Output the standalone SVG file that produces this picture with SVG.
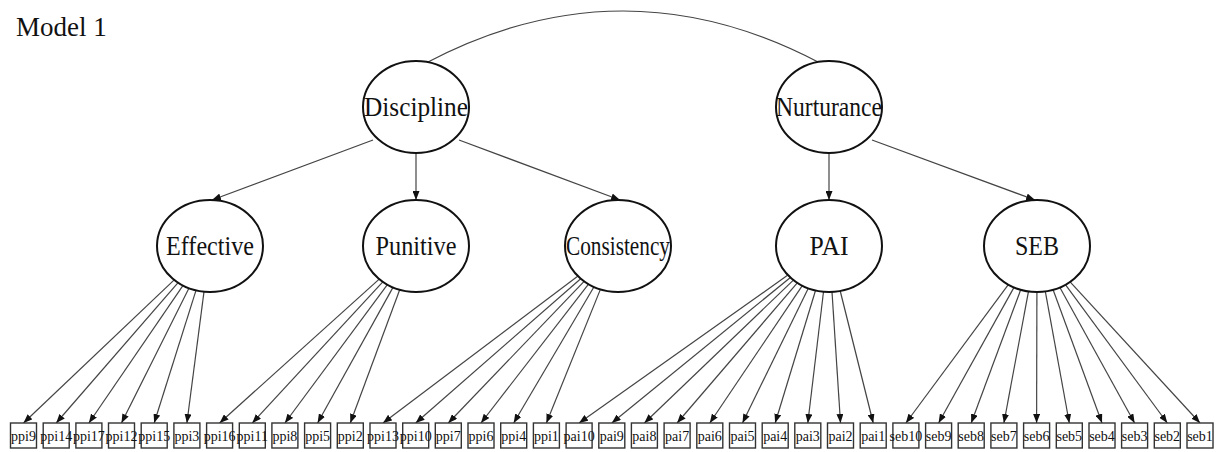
<svg xmlns="http://www.w3.org/2000/svg" width="1219" height="452" viewBox="0 0 1219 452">
<style>
.lat{fill:#fff;stroke:#111;stroke-width:2}
.lt{font-family:"Liberation Serif","Times New Roman",serif;font-size:27px;fill:#111;text-anchor:middle}
.box{fill:#fff;stroke:#333;stroke-width:1.4}
.bt{font-family:"Liberation Serif","Times New Roman",serif;font-size:14px;fill:#111;text-anchor:middle}
.e{fill:none;stroke:#444;stroke-width:1.2}
.title{font-family:"Liberation Serif","Times New Roman",serif;font-size:27px;fill:#111}
</style>
<defs>
<marker id="ah" markerUnits="userSpaceOnUse" markerWidth="9" markerHeight="7" refX="9" refY="3.5" orient="auto">
<path d="M0,0 L9,3.5 L0,7 z" fill="#111"/>
</marker>
</defs>
<rect width="1219" height="452" fill="#fff"/>
<text class="title" x="16" y="36">Model 1</text>
<g id="connectors">
<path class="e" d="M426,63 Q623,-41 820,63" stroke="#555"/>
<g marker-end="url(#ah)">
<path class="e" d="M373,140 L212,200"/>
<path class="e" d="M416,153 L416,200"/>
<path class="e" d="M459,140 L620,200"/>
<path class="e" d="M829,153 L829,200"/>
<path class="e" d="M872,140 L1035,200"/>
<path class="e" d="M174.2,279.9 L23.5,423"/>
<path class="e" d="M178.1,282.7 L56.2,423"/>
<path class="e" d="M182.9,285.6 L88.9,423"/>
<path class="e" d="M188.9,288.2 L121.5,423"/>
<path class="e" d="M196.0,290.4 L154.2,423"/>
<path class="e" d="M204.0,291.7 L186.9,423"/>
<path class="e" d="M379.2,279.1 L219.6,423"/>
<path class="e" d="M382.8,281.9 L252.3,423"/>
<path class="e" d="M387.4,284.7 L284.9,423"/>
<path class="e" d="M393.0,287.4 L317.6,423"/>
<path class="e" d="M399.7,289.8 L350.3,423"/>
<path class="e" d="M578.0,276.1 L383.0,423"/>
<path class="e" d="M580.7,278.7 L415.7,423"/>
<path class="e" d="M584.1,281.4 L448.3,423"/>
<path class="e" d="M588.5,284.2 L481.0,423"/>
<path class="e" d="M593.9,287.0 L513.7,423"/>
<path class="e" d="M600.4,289.4 L546.4,423"/>
<path class="e" d="M787.9,275.1 L579.1,423"/>
<path class="e" d="M790.4,277.5 L611.8,423"/>
<path class="e" d="M793.4,280.1 L644.4,423"/>
<path class="e" d="M797.3,282.9 L677.1,423"/>
<path class="e" d="M802.3,285.7 L709.8,423"/>
<path class="e" d="M808.3,288.3 L742.5,423"/>
<path class="e" d="M815.5,290.5 L775.2,423"/>
<path class="e" d="M823.5,291.8 L807.8,423"/>
<path class="e" d="M832.0,291.9 L840.5,423"/>
<path class="e" d="M840.2,291.0 L873.2,423"/>
<path class="e" d="M1008.3,284.7 L905.9,423"/>
<path class="e" d="M1014.0,287.4 L938.6,423"/>
<path class="e" d="M1020.7,289.8 L971.2,423"/>
<path class="e" d="M1028.5,291.4 L1003.9,423"/>
<path class="e" d="M1036.9,292.0 L1036.6,423"/>
<path class="e" d="M1045.3,291.4 L1069.3,423"/>
<path class="e" d="M1053.1,289.8 L1102.0,423"/>
<path class="e" d="M1059.9,287.5 L1134.6,423"/>
<path class="e" d="M1065.6,284.8 L1167.3,423"/>
<path class="e" d="M1070.1,281.9 L1200.0,423"/>
</g>
</g>
<g id="Discipline"><ellipse class="lat" cx="416" cy="107" rx="53" ry="46"/><text class="lt" x="416" y="116" textLength="104" lengthAdjust="spacingAndGlyphs">Discipline</text></g>
<g id="Nurturance"><ellipse class="lat" cx="829" cy="107" rx="53" ry="46"/><text class="lt" x="829" y="116" textLength="106" lengthAdjust="spacingAndGlyphs">Nurturance</text></g>
<g id="Effective"><ellipse class="lat" cx="210" cy="246" rx="53" ry="46"/><text class="lt" x="210" y="255" textLength="88" lengthAdjust="spacingAndGlyphs">Effective</text></g>
<g id="Punitive"><ellipse class="lat" cx="416" cy="246" rx="53" ry="46"/><text class="lt" x="416" y="255" textLength="81" lengthAdjust="spacingAndGlyphs">Punitive</text></g>
<g id="Consistency"><ellipse class="lat" cx="618" cy="246" rx="53" ry="46"/><text class="lt" x="618" y="255" textLength="104" lengthAdjust="spacingAndGlyphs">Consistency</text></g>
<g id="PAI"><ellipse class="lat" cx="829" cy="246" rx="53" ry="46"/><text class="lt" x="829" y="255" textLength="39" lengthAdjust="spacingAndGlyphs">PAI</text></g>
<g id="SEB"><ellipse class="lat" cx="1037" cy="246" rx="53" ry="46"/><text class="lt" x="1037" y="255" textLength="44" lengthAdjust="spacingAndGlyphs">SEB</text></g>
<g id="ppi9"><rect class="box" x="10.5" y="423" width="26" height="25"/><text class="bt" x="23.5" y="440.5">ppi9</text></g>
<g id="ppi14"><rect class="box" x="43.2" y="423" width="26" height="25"/><text class="bt" x="56.2" y="440.5">ppi14</text></g>
<g id="ppi17"><rect class="box" x="75.9" y="423" width="26" height="25"/><text class="bt" x="88.9" y="440.5">ppi17</text></g>
<g id="ppi12"><rect class="box" x="108.5" y="423" width="26" height="25"/><text class="bt" x="121.5" y="440.5">ppi12</text></g>
<g id="ppi15"><rect class="box" x="141.2" y="423" width="26" height="25"/><text class="bt" x="154.2" y="440.5">ppi15</text></g>
<g id="ppi3"><rect class="box" x="173.9" y="423" width="26" height="25"/><text class="bt" x="186.9" y="440.5">ppi3</text></g>
<g id="ppi16"><rect class="box" x="206.6" y="423" width="26" height="25"/><text class="bt" x="219.6" y="440.5">ppi16</text></g>
<g id="ppi11"><rect class="box" x="239.3" y="423" width="26" height="25"/><text class="bt" x="252.3" y="440.5">ppi11</text></g>
<g id="ppi8"><rect class="box" x="271.9" y="423" width="26" height="25"/><text class="bt" x="284.9" y="440.5">ppi8</text></g>
<g id="ppi5"><rect class="box" x="304.6" y="423" width="26" height="25"/><text class="bt" x="317.6" y="440.5">ppi5</text></g>
<g id="ppi2"><rect class="box" x="337.3" y="423" width="26" height="25"/><text class="bt" x="350.3" y="440.5">ppi2</text></g>
<g id="ppi13"><rect class="box" x="370.0" y="423" width="26" height="25"/><text class="bt" x="383.0" y="440.5">ppi13</text></g>
<g id="ppi10"><rect class="box" x="402.7" y="423" width="26" height="25"/><text class="bt" x="415.7" y="440.5">ppi10</text></g>
<g id="ppi7"><rect class="box" x="435.3" y="423" width="26" height="25"/><text class="bt" x="448.3" y="440.5">ppi7</text></g>
<g id="ppi6"><rect class="box" x="468.0" y="423" width="26" height="25"/><text class="bt" x="481.0" y="440.5">ppi6</text></g>
<g id="ppi4"><rect class="box" x="500.7" y="423" width="26" height="25"/><text class="bt" x="513.7" y="440.5">ppi4</text></g>
<g id="ppi1"><rect class="box" x="533.4" y="423" width="26" height="25"/><text class="bt" x="546.4" y="440.5">ppi1</text></g>
<g id="pai10"><rect class="box" x="566.1" y="423" width="26" height="25"/><text class="bt" x="579.1" y="440.5">pai10</text></g>
<g id="pai9"><rect class="box" x="598.8" y="423" width="26" height="25"/><text class="bt" x="611.8" y="440.5">pai9</text></g>
<g id="pai8"><rect class="box" x="631.4" y="423" width="26" height="25"/><text class="bt" x="644.4" y="440.5">pai8</text></g>
<g id="pai7"><rect class="box" x="664.1" y="423" width="26" height="25"/><text class="bt" x="677.1" y="440.5">pai7</text></g>
<g id="pai6"><rect class="box" x="696.8" y="423" width="26" height="25"/><text class="bt" x="709.8" y="440.5">pai6</text></g>
<g id="pai5"><rect class="box" x="729.5" y="423" width="26" height="25"/><text class="bt" x="742.5" y="440.5">pai5</text></g>
<g id="pai4"><rect class="box" x="762.2" y="423" width="26" height="25"/><text class="bt" x="775.2" y="440.5">pai4</text></g>
<g id="pai3"><rect class="box" x="794.8" y="423" width="26" height="25"/><text class="bt" x="807.8" y="440.5">pai3</text></g>
<g id="pai2"><rect class="box" x="827.5" y="423" width="26" height="25"/><text class="bt" x="840.5" y="440.5">pai2</text></g>
<g id="pai1"><rect class="box" x="860.2" y="423" width="26" height="25"/><text class="bt" x="873.2" y="440.5">pai1</text></g>
<g id="seb10"><rect class="box" x="892.9" y="423" width="26" height="25"/><text class="bt" x="905.9" y="440.5">seb10</text></g>
<g id="seb9"><rect class="box" x="925.6" y="423" width="26" height="25"/><text class="bt" x="938.6" y="440.5">seb9</text></g>
<g id="seb8"><rect class="box" x="958.2" y="423" width="26" height="25"/><text class="bt" x="971.2" y="440.5">seb8</text></g>
<g id="seb7"><rect class="box" x="990.9" y="423" width="26" height="25"/><text class="bt" x="1003.9" y="440.5">seb7</text></g>
<g id="seb6"><rect class="box" x="1023.6" y="423" width="26" height="25"/><text class="bt" x="1036.6" y="440.5">seb6</text></g>
<g id="seb5"><rect class="box" x="1056.3" y="423" width="26" height="25"/><text class="bt" x="1069.3" y="440.5">seb5</text></g>
<g id="seb4"><rect class="box" x="1089.0" y="423" width="26" height="25"/><text class="bt" x="1102.0" y="440.5">seb4</text></g>
<g id="seb3"><rect class="box" x="1121.6" y="423" width="26" height="25"/><text class="bt" x="1134.6" y="440.5">seb3</text></g>
<g id="seb2"><rect class="box" x="1154.3" y="423" width="26" height="25"/><text class="bt" x="1167.3" y="440.5">seb2</text></g>
<g id="seb1"><rect class="box" x="1187.0" y="423" width="26" height="25"/><text class="bt" x="1200.0" y="440.5">seb1</text></g>
</svg>
